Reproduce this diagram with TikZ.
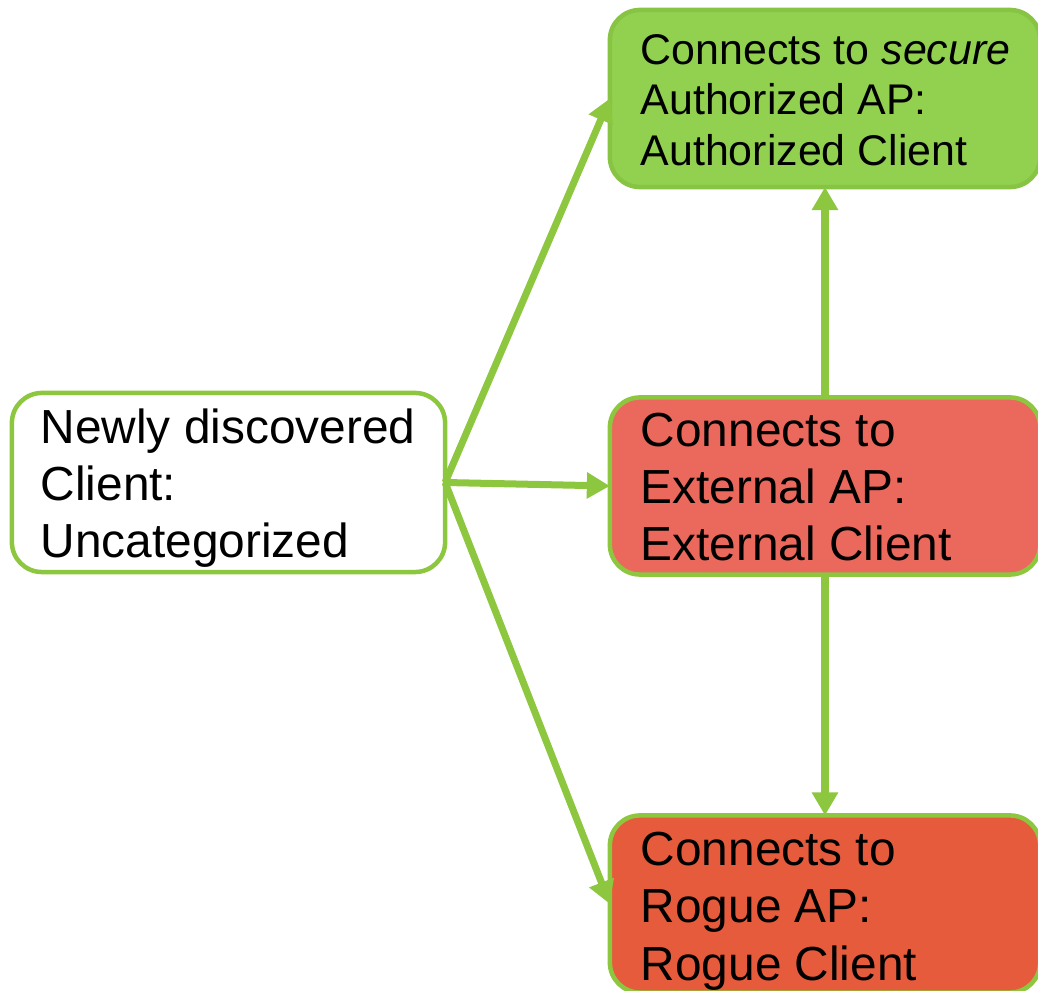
\documentclass[tikz,border=0pt]{standalone}
\usepackage{fontspec}
\setmainfont{Liberation Sans}
\usetikzlibrary{arrows.meta}
\definecolor{edgegreen}{HTML}{8DC63F}
\definecolor{boxgreen}{HTML}{92D050}
\definecolor{boxgreenline}{HTML}{88C443}
\definecolor{extred}{HTML}{EB685C}
\definecolor{rogred}{HTML}{E75B3D}
\tikzset{
  catbox/.style={draw=edgegreen, line width=0.045cm, rounded corners=0.3cm, minimum width=4.3cm, minimum height=1.77cm, inner sep=0pt, outer sep=0pt},
  bigtxt/.style={anchor=west, align=left, inner sep=0pt, font=\fontsize{13.6pt}{16.3pt}\selectfont},
  smalltxt/.style={anchor=west, align=left, inner sep=0pt, font=\fontsize{12.2pt}{14.3pt}\selectfont},
  flow/.style={draw=edgegreen, line width=0.07cm, -{Triangle[width=0.25cm,length=0.23cm]}}
}
\begin{document}
\begin{tikzpicture}[x=0.01cm,y=-0.01cm]
\useasboundingbox (0,0) rectangle (1038,991);
\node[catbox, fill=white, minimum width=4.33cm, minimum height=1.79cm] (left) at (228.5,482.5) {};
\node[catbox, fill=boxgreen, draw=boxgreenline] (top) at (825,98.5) {};
\node[catbox, fill=extred] (mid) at (825,486) {};
\node[catbox, fill=rogred] (bot) at (825,904) {};
\node[bigtxt] (lefttxt) at (40,488) {Newly discovered\\Client:\\Uncategorized};
\node[smalltxt] (toptxt) at (640,100) {Connects to \textit{secure}\\Authorized AP:\\Authorized Client};
\node[bigtxt] (midtxt) at (640,487) {Connects to\\External AP:\\External Client};
\node[bigtxt] (bottxt) at (640,911) {Connects to\\Rogue AP:\\Rogue Client};
\draw[flow] (left.east) -- (top.west);
\draw[flow] (left.east) -- (mid.west);
\draw[flow] (left.east) -- (bot.west);
\draw[flow] (mid.north) -- (top.south);
\draw[flow] (mid.south) -- (bot.north);
\end{tikzpicture}
\end{document}
